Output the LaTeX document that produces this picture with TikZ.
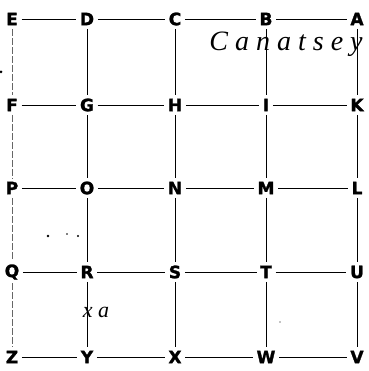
\documentclass[tikz,border=0pt]{standalone}
\usepackage{fontspec}
\newfontfamily\gridfont{DejaVu Sans}[BoldFeatures={FakeBold=1.6}]
\newfontfamily\handfont{Liberation Serif}[LetterSpace=25]
\tikzset{
  pt/.style={font=\gridfont\bfseries\fontsize{17}{17}\selectfont, inner sep=3.5pt},
  edge/.style={line width=0.8pt},
  faint/.style={line width=0.6pt, black!60, dash pattern=on 7pt off 2pt},
}
\begin{document}
\begin{tikzpicture}[x=1pt,y=-1pt]
\useasboundingbox (0,0) rectangle (368,371);
% points of the grid
\node[pt] (E) at (12,19) {E};
\node[pt] (D) at (87,19) {D};
\node[pt] (C) at (175,19) {C};
\node[pt] (B) at (266,19) {B};
\node[pt] (A) at (357,19) {A};
\node[pt] (F) at (12,105) {F};
\node[pt] (G) at (87,105) {G};
\node[pt] (H) at (175,105) {H};
\node[pt] (I) at (266,105) {I};
\node[pt] (K) at (357,105) {K};
\node[pt] (P) at (12,188) {P};
\node[pt] (O) at (87,188) {O};
\node[pt] (N) at (175,188) {N};
\node[pt] (M) at (266,188) {M};
\node[pt] (L) at (357,188) {L};
\node[pt] (Q) at (12,272) {Q};
\node[pt] (R) at (87,272) {R};
\node[pt] (S) at (175,272) {S};
\node[pt] (T) at (266,272) {T};
\node[pt] (U) at (357,272) {U};
\node[pt] (Z) at (12,357) {Z};
\node[pt] (Y) at (87,357) {Y};
\node[pt] (X) at (175,357) {X};
\node[pt] (W) at (266,357) {W};
\node[pt] (V) at (357,357) {V};
% rows
\draw[edge] (E) -- (D) -- (C) -- (B) -- (A);
\draw[edge] (F) -- (G) -- (H) -- (I) -- (K);
\draw[edge] (P) -- (O) -- (N) -- (M) -- (L);
\draw[edge] (Q) -- (R) -- (S) -- (T) -- (U);
\draw[edge] (Z) -- (Y) -- (X) -- (W) -- (V);
% columns
\draw[faint] (E) -- (F) -- (P) -- (Q) -- (Z);
\draw[edge] (D) -- (G) -- (O) -- (R) -- (Y);
\draw[edge] (C) -- (H) -- (N) -- (S) -- (X);
\draw[edge] (B) -- (I) -- (M) -- (T) -- (W);
\draw[edge] (A) -- (K) -- (L) -- (U) -- (V);
% handwriting
\node[font=\handfont\itshape\fontsize{28}{28}\selectfont] (name) at (286,44) {Canatsey};
\node[font=\handfont\itshape\fontsize{22}{22}\selectfont] (mark) at (96,312) {xa};
\fill (48,236) circle (1.3);
\fill (67,234) circle (0.8);
\fill (78,236) circle (1.1);
\fill (1,72) circle (1.5);
\fill (280,322) circle (0.6);
\end{tikzpicture}
\end{document}
